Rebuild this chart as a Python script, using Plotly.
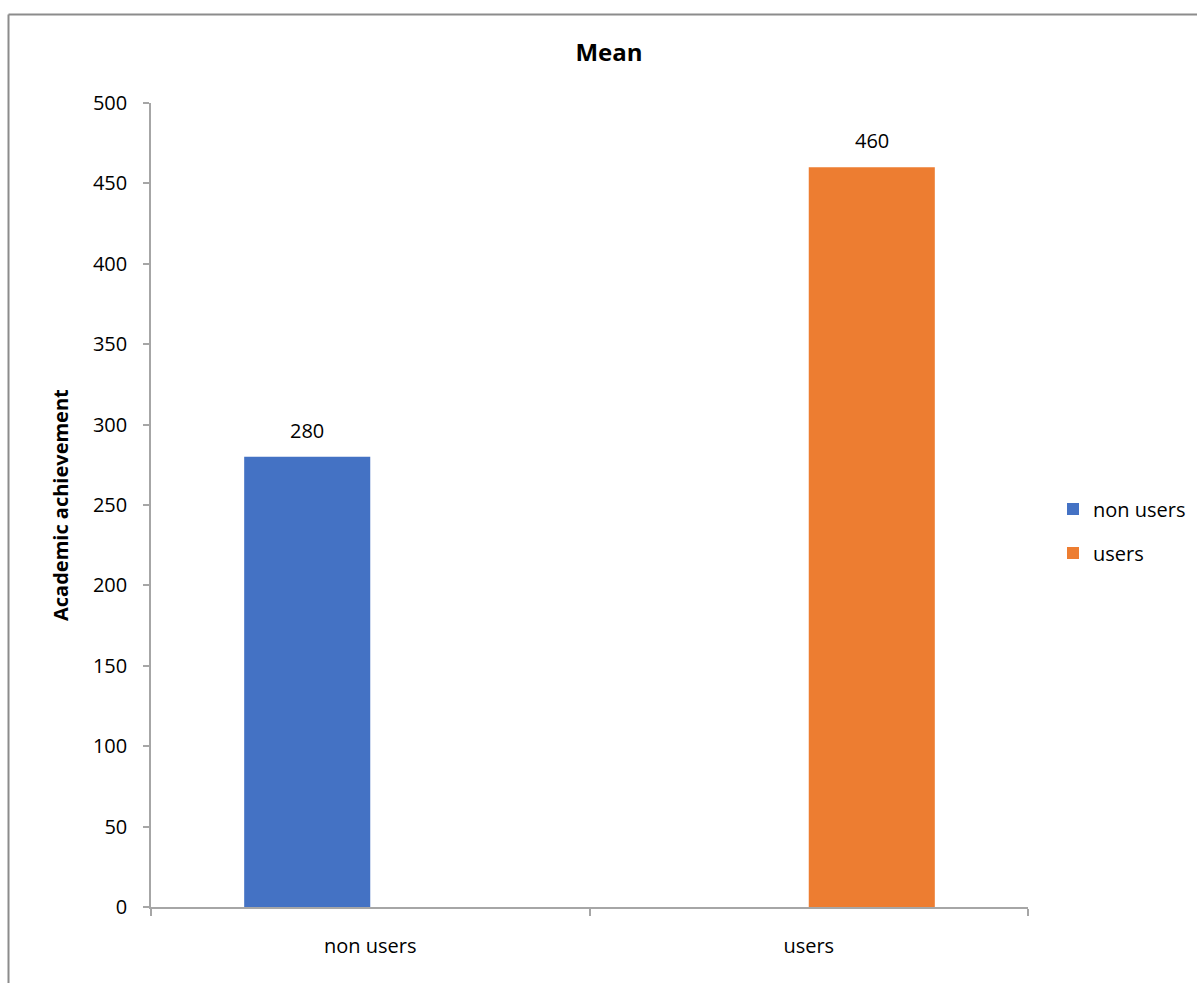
import plotly.graph_objects as go

categories = ["non users", "users"]
values = [280, 460]
colors = ["#4472C4", "#ED7D31"]
y_ticks = list(range(0, 501, 50))

FONT = "Open Sans"
BARGAP = 0.425
fig = go.Figure()
n = len(categories)
slot = (1 - BARGAP) / n
for i, (c, v) in enumerate(zip(categories, values)):
    start = -(1 - BARGAP) / 2 + slot * i
    fig.add_trace(go.Bar(
        x=[c], y=[v], name=c, marker=dict(color=colors[i], line=dict(width=0)),
        width=slot, offset=start,
        legendgroup=c, showlegend=True, hoverinfo="x+y",
    ))
    fig.add_annotation(x=categories.index(c) + start + slot / 2, y=v, text=str(v), showarrow=False,
                       yanchor="bottom", yshift=11,
                       font=dict(family=FONT, size=20, color="#000000"))

L, R, T, B = 151, 169, 103, 76
W, H = 1197, 983
pw, ph = W - L - R, H - T - B

fig.update_layout(
    width=W, height=H,
    margin=dict(l=L, r=R, t=T, b=B, pad=0, autoexpand=False),
    paper_bgcolor="white", plot_bgcolor="white",
    barmode="overlay",
    font=dict(family=FONT, size=20, color="#000000"),
    title=dict(text="<b>Mean</b>", x=609 / W, xanchor="center", y=1 - 53 / H, yanchor="middle",
               font=dict(family=FONT, size=24, color="#000000")),
    legend=dict(x=(1053 - L) / pw, xanchor="left", y=(H - B - 531) / ph, yanchor="middle",
                font=dict(family=FONT, size=20, color="#000000"),
                tracegroupgap=15, traceorder="grouped", itemwidth=30, bgcolor="rgba(0,0,0,0)"),
    showlegend=True,
)
fig.update_xaxes(
    type="category", showline=True, linecolor="#A6A6A6", linewidth=1.5,
    ticks="outside", tickson="boundaries", ticklen=7, tickcolor="#A6A6A6", tickwidth=1.5,
    showgrid=False, zeroline=False, ticklabelstandoff=20,
    tickfont=dict(family=FONT, size=20, color="#000000"),
)
fig.update_yaxes(
    range=[0, 500], tickvals=y_ticks, showline=True, linecolor="#A6A6A6", linewidth=1.5,
    ticks="outside", ticklen=6, tickcolor="#A6A6A6", tickwidth=1.5,
    showgrid=False, zeroline=False, ticklabelstandoff=12,
    tickfont=dict(family=FONT, size=20, color="#000000"),
)
fig.add_annotation(xref="paper", yref="paper", x=(60 - L) / pw, y=(H - B - 505) / ph,
                   text="<b>Academic achievement</b>", textangle=-90, showarrow=False,
                   xanchor="center", yanchor="middle",
                   font=dict(family=FONT, size=20, color="#000000"))
# outer chart border (top and left visible)
fig.add_shape(type="line", xref="paper", yref="paper",
              x0=(8.5 - L) / pw, x1=(1210 - L) / pw, y0=(H - B - 14.5) / ph, y1=(H - B - 14.5) / ph,
              line=dict(color="#8C8C8C", width=2))
fig.add_shape(type="line", xref="paper", yref="paper",
              x0=(8.5 - L) / pw, x1=(8.5 - L) / pw, y0=(H - B - 14.5) / ph, y1=(H - B - 1000) / ph,
              line=dict(color="#8C8C8C", width=2))

fig.write_html("out.html")
